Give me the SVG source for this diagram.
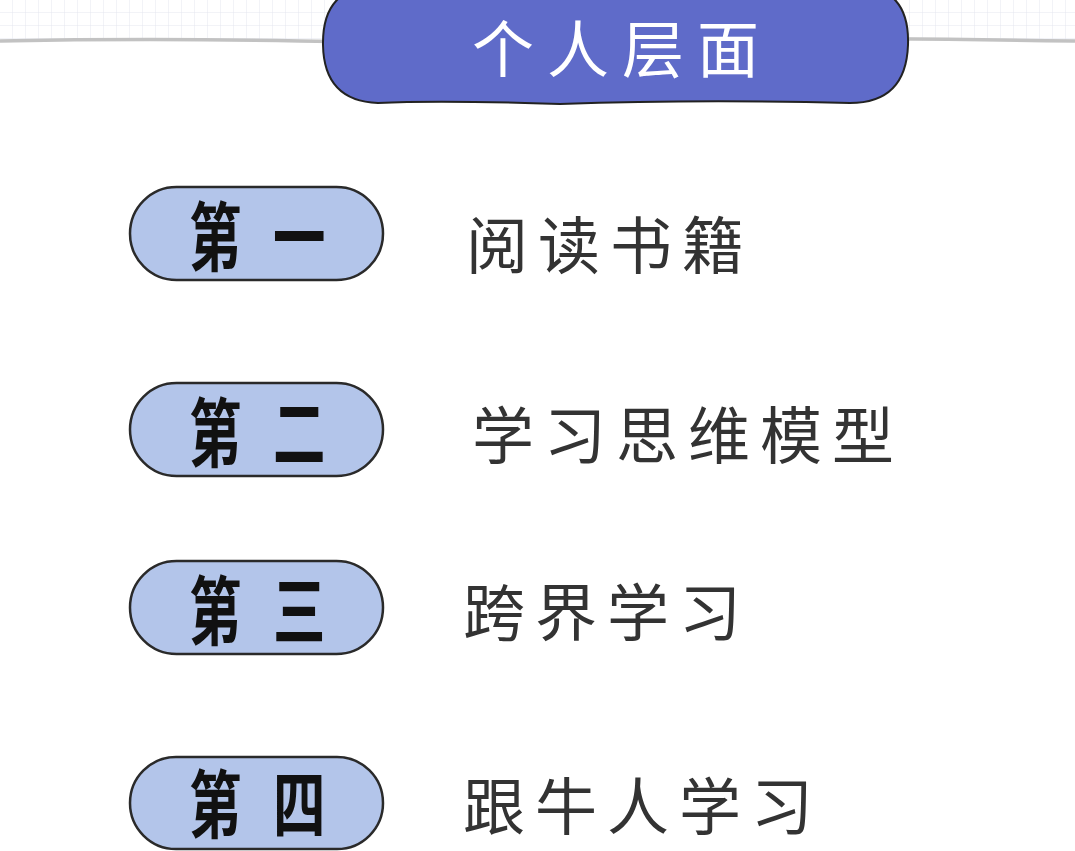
<svg xmlns="http://www.w3.org/2000/svg" width="1075" height="851" viewBox="0 0 1075 851">
<defs>
<pattern id="grid" width="13" height="13" patternUnits="userSpaceOnUse">
<path d="M13 0V13M0 13H13" fill="none" stroke="#e4e6ef" stroke-width="1"/>
</pattern>
<style>
.pill{fill:#b3c5ea;stroke:#2a2a2a;stroke-width:2.5}
.lab{font-family:"Noto Sans CJK SC","Noto Sans",sans-serif;font-size:64px;font-weight:700;fill:#111}
.item{font-family:"Noto Sans CJK SC","Noto Sans",sans-serif;font-size:62px;font-weight:400;fill:#333;letter-spacing:10px}
.head{font-family:"Noto Sans CJK SC","Noto Sans",sans-serif;font-size:62px;font-weight:400;fill:#fff;letter-spacing:13px}
</style>
</defs>
<rect width="1075" height="851" fill="#ffffff"/>
<rect x="0" y="0" width="1075" height="41" fill="url(#grid)"/>
<g id="connectors">
<path d="M0 41 Q150 38 300 41 T600 40 T1075 41" fill="none" stroke="#c2c2c2" stroke-width="3.5"/>
</g>
<g id="header">
<path d="M378 -14 H855 Q910 -14 908 45 Q906 103 850 103 Q700 99 560 104 Q440 100 378 103 Q324 101 323 45 Q322 -14 378 -14 Z" fill="#5f6bc9" stroke="#222" stroke-width="2"/>
<text class="head" x="472" y="73">个人层面</text>
</g>
<g id="n1">
<rect class="pill" x="130" y="187" width="253" height="93" rx="46.5"/>
<text class="lab" transform="translate(189,265) scale(0.82,1.18)">第</text>
<text class="lab" transform="translate(273,265) scale(0.82,1.18)">一</text>
<text class="item" x="466" y="269">阅读书籍</text>
</g>
<g id="n2">
<rect class="pill" x="130" y="383" width="253" height="93" rx="46.5"/>
<text class="lab" transform="translate(189,461) scale(0.82,1.18)">第</text>
<text class="lab" transform="translate(273,461) scale(0.82,1.18)">二</text>
<text class="item" x="472" y="459">学习思维模型</text>
</g>
<g id="n3">
<rect class="pill" x="130" y="561" width="253" height="93" rx="46.5"/>
<text class="lab" transform="translate(189,639) scale(0.82,1.18)">第</text>
<text class="lab" transform="translate(273,639) scale(0.82,1.18)">三</text>
<text class="item" x="463" y="636">跨界学习</text>
</g>
<g id="n4">
<rect class="pill" x="130" y="757" width="253" height="92" rx="46"/>
<text class="lab" transform="translate(189,832) scale(0.82,1.15)">第</text>
<text class="lab" transform="translate(273,832) scale(0.82,1.15)">四</text>
<text class="item" x="463" y="830">跟牛人学习</text>
</g>
</svg>
